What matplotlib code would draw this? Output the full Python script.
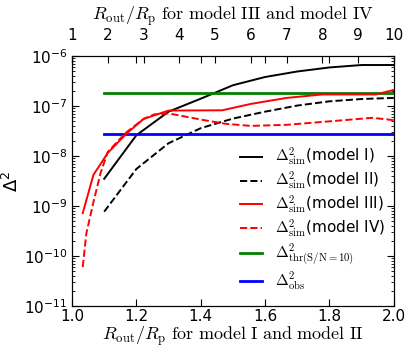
import matplotlib
matplotlib.use('Agg')
import matplotlib.pyplot as plt
import numpy as np

plt.rcParams['mathtext.fontset'] = 'cm'
plt.rcParams['font.family'] = 'DejaVu Sans'
plt.rcParams['xtick.direction'] = 'in'
plt.rcParams['ytick.direction'] = 'in'

# model I / II : bottom axis
x12 = [1.1, 1.2, 1.3, 1.4, 1.5, 1.6, 1.7, 1.8, 1.9, 2.0]
sim_I = [3.5e-9, 2.6e-8, 7.7e-8, 1.4e-7, 2.6e-7, 3.8e-7, 4.9e-7, 5.9e-7, 6.6e-7, 6.6e-7]
sim_II = [7.7e-10, 5.5e-9, 1.8e-8, 3.6e-8, 5.6e-8, 7.7e-8, 1.02e-7, 1.24e-7, 1.38e-7, 1.45e-7]

# model III / IV : top axis
x_III = [1.3, 1.6, 2.0, 2.5, 3.0, 3.7, 5.2, 6.0, 7.0, 8.0, 9.5, 10.0]
sim_III = [7.2e-10, 4.2e-9, 1.15e-8, 2.7e-8, 5.5e-8, 8.1e-8, 8.2e-8, 1.1e-7, 1.45e-7, 1.7e-7, 1.7e-7, 2.1e-7]
x_IV = [1.3, 1.4, 1.6, 1.8, 2.0, 2.5, 3.0, 3.3, 3.7, 4.7, 5.3, 6.0, 7.0, 8.0, 9.4, 10.0]
sim_IV = [6e-11, 2.8e-10, 1.2e-9, 4.6e-9, 1.2e-8, 2.9e-8, 5.5e-8, 6.8e-8, 7.1e-8, 5.2e-8, 4.4e-8, 4.0e-8, 4.2e-8, 4.8e-8, 5.8e-8, 5.2e-8]

x_hline = [1.1, 2.0]
thr = 1.8e-7
obs = 2.75e-8

fig = plt.figure(figsize=(4.15, 3.58), dpi=100)
ax = fig.add_axes([0.1735, 0.1453, 0.7755, 0.6983])
ax2 = ax.twiny()

l1, = ax.plot(x12, sim_I, color='k', lw=1.4, label=r'$\Delta^2_{\rm sim}$(model I)')
l2, = ax.plot(x12, sim_II, color='k', ls='--', lw=1.4, label=r'$\Delta^2_{\rm sim}$(model II)')
l3, = ax2.plot(x_III, sim_III, color='r', lw=1.4, label=r'$\Delta^2_{\rm sim}$(model III)')
l4, = ax2.plot(x_IV, sim_IV, color='r', ls='--', lw=1.4, label=r'$\Delta^2_{\rm sim}$(model IV)')
l5, = ax.plot(x_hline, [thr, thr], color='green', lw=2, label=r'$\Delta^2_{\rm thr(S/N=10)}$')
l6, = ax.plot(x_hline, [obs, obs], color='blue', lw=2, label=r'$\Delta^2_{\rm obs}$')

ax.set_yscale('log')
ax.set_ylim(1e-11, 1e-6)
ax.set_xlim(1.0, 2.0)
ax.set_xticks([1.0, 1.2, 1.4, 1.6, 1.8, 2.0])
ax2.set_xlim(1, 10)
ax2.set_xticks(range(1, 11))
for a in (ax, ax2):
    a.tick_params(which='both', top=True, right=True, labelsize=11)
ax.tick_params(which='major', length=5)
ax.tick_params(which='minor', length=2.5)
ax.tick_params(axis='x', pad=2)
ax2.tick_params(axis='x', pad=9, length=5)

ax.set_xlabel(r'$R_{\rm out}/R_{\rm p}\ \mathrm{for\ model\ I\ and\ model\ II}$', fontsize=13, labelpad=0.5)
ax2.set_xlabel(r'$R_{\rm out}/R_{\rm p}\ \mathrm{for\ model\ III\ and\ model\ IV}$', fontsize=13, labelpad=6)
ax.set_ylabel(r'$\Delta^2$', fontsize=13, math_fontfamily='dejavusans', labelpad=1)

ax2.legend(handles=[l1, l2, l3, l4, l5, l6], loc='lower right', frameon=False,
           fontsize=11, handlelength=1.5, labelspacing=0.12, bbox_to_anchor=(1.015, 0.0))

fig.savefig('out.png', dpi=100)
